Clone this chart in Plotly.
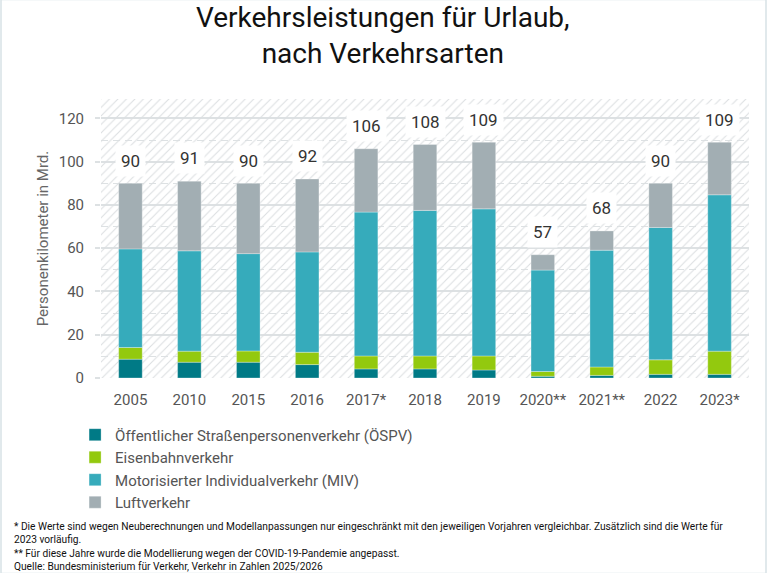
import plotly.graph_objects as go

# Werte (Personenkilometer in Mrd.)
jahre = ["2005", "2010", "2015", "2016", "2017*", "2018", "2019",
         "2020**", "2021**", "2022", "2023*"]
oespv = [8.7, 7.3, 7.3, 6.2, 4.2, 4.2, 3.7, 0.8, 1.2, 1.7, 1.7]
eisenbahn = [5.4, 5.1, 5.2, 5.7, 6.0, 6.0, 6.5, 2.2, 3.9, 6.7, 10.7]
miv = [45.6, 46.4, 45.0, 46.4, 66.5, 67.3, 68.0, 46.9, 54.0, 61.2, 72.3]
luft = [30.3, 32.2, 32.5, 33.7, 29.3, 30.5, 30.8, 7.1, 8.9, 20.4, 24.3]
summen = [90, 91, 90, 92, 106, 108, 109, 57, 68, 90, 109]

serien = [
    ("Öffentlicher Straßenpersonenverkehr (ÖSPV)", oespv, "#007a86"),
    ("Eisenbahnverkehr", eisenbahn, "#93c90e"),
    ("Motorisierter Individualverkehr (MIV)", miv, "#36abbb"),
    ("Luftverkehr", luft, "#a2aeb3"),
]

FONT = "Roboto"
Y_MAX = 129

fig = go.Figure()

# schraffierter Hintergrund über alle Kategorien
fig.add_trace(go.Bar(
    x=[jahre[len(jahre) // 2]], y=[Y_MAX], width=[len(jahre)],
    marker=dict(color="rgba(255,255,255,0)", line=dict(width=0),
                pattern=dict(shape="/", fgcolor="#dcdfe1", fgopacity=1,
                             bgcolor="rgba(255,255,255,0)", size=6, solidity=0.18)),
    showlegend=False, hoverinfo="skip",
))

# gestapelte Balken (Basis = Summe der darunterliegenden Segmente)
basis = [0.0] * len(jahre)
for name, werte, farbe in serien:
    fig.add_trace(go.Bar(
        name=name, x=jahre, y=werte, base=list(basis),
        marker=dict(color=farbe, line=dict(width=0.6, color="rgba(255,255,255,0.5)")),
    ))
    basis = [b + w for b, w in zip(basis, werte)]

for i, summe in enumerate(summen):
    fig.add_annotation(
        x=i, y=summe + 10.5, text=str(summe),
        showarrow=False, bgcolor="white", borderpad=5,
        font=dict(family=FONT, size=17, color="#333333"),
    )

fig.add_annotation(
    x=0.5, y=1.229, xref="paper", yref="paper", xshift=-42,
    xanchor="center", yanchor="middle", showarrow=False,
    text="Verkehrsleistungen für Urlaub,<br>nach Verkehrsarten",
    font=dict(family=FONT, size=28, color="#111111"),
)

fussnoten = [
    "* Die Werte sind wegen Neuberechnungen und Modellanpassungen nur eingeschränkt mit den jeweiligen Vorjahren vergleichbar. Zusätzlich sind die Werte für<br>2023 vorläufig.",
    "** Für diese Jahre wurde die Modellierung wegen der COVID-19-Pandemie angepasst.",
    "Quelle: Bundesministerium für Verkehr, Verkehr in Zahlen 2025/2026",
]
fig.add_annotation(
    x=0, y=0, xref="paper", yref="paper", xanchor="left", yanchor="top",
    xshift=-89, yshift=-141, align="left", showarrow=False,
    text="<br>".join(fussnoten),
    font=dict(family=FONT, size=10.2, color="#111111"),
)

fig.update_layout(
    width=767, height=573,
    margin=dict(l=101, r=18, t=99, b=195),
    paper_bgcolor="white", plot_bgcolor="white",
    barmode="overlay", bargap=0.6,
    font=dict(family=FONT, color="#555555"),
    xaxis=dict(
        type="category", categoryorder="array", categoryarray=jahre,
        range=[-0.5, len(jahre) - 0.5],
        showgrid=False, showline=False, ticks="",
        tickfont=dict(family=FONT, size=15, color="#555555"),
        ticklabelstandoff=11,
    ),
    yaxis=dict(
        range=[0, Y_MAX], dtick=20, tick0=0,
        showgrid=True, gridcolor="#dde1e3", gridwidth=1.5,
        ticks="outside", ticklen=5, tickcolor="#dde1e3", tickwidth=1.5,
        tickfont=dict(family=FONT, size=15, color="#555555"),
        ticklabelstandoff=8,
        minor=dict(dtick=10, showgrid=True, gridcolor="#dde1e3",
                   gridwidth=1.2, griddash="7px,5px"),
        zeroline=False, showline=False,
        title=dict(text="Personenkilometer in Mrd.", standoff=6,
                   font=dict(family=FONT, size=15, color="#666666")),
    ),
    legend=dict(
        orientation="v", x=-0.04, xanchor="left", y=-0.145, yanchor="top",
        traceorder="normal", font=dict(family=FONT, size=15, color="#555555"),
        itemwidth=30, tracegroupgap=0,
    ),
    shapes=[dict(
        type="rect", xref="paper", yref="paper",
        x0=-100 / 648, x1=665 / 648, y0=-195 / 278.4, y1=377.7 / 278.4,
        line=dict(color="#d8e2e6", width=1.5), layer="below",
    )],
)

fig.write_html("out.html", config={"displayModeBar": False},
               post_script="document.body.style.margin='0';")
